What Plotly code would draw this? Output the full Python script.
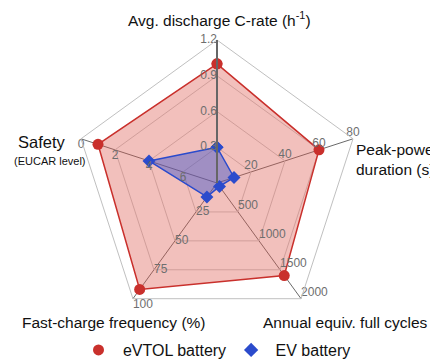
import plotly.graph_objects as go

# ---- data ----
categories = ["Avg. discharge C-rate", "Peak-power duration", "Annual equiv. full cycles",
              "Fast-charge frequency", "Safety"]
axis_max = [1.2, 80, 2000, 100, 8]
axis_reversed = [False, False, False, False, True]
evtol_values = [1.0, 60, 1600, 92, 1]
ev_values = [0.3, 10, 60, 12, 4]
tick_values = [[0.3, 0.6, 0.9, 1.2], [20, 40, 60, 80], [500, 1000, 1500, 2000],
               [25, 50, 75, 100], [0, 2, 4, 6]]
tick_labels = [["0.3", "0.6", "0.9", "1.2"], ["20", "40", "60", "80"],
               ["500", "1000", "1500", "2000"], ["25", "50", "75", "100"],
               ["0", "2", "4", "6"]]
tick_positions = [["middle left"] * 4, ["top center"] * 4, ["top right"] * 4,
                  ["middle right", "middle right", "middle right", "bottom right"],
                  ["bottom center"] * 4]


def norm(v, i):
    r = v / axis_max[i]
    return 1 - r if axis_reversed[i] else r


RED = "#c9302c"
BLUE = "#2b4bcc"
FONT = "Liberation Sans"

fig = go.Figure()

theta_closed = categories + [categories[0]]
evtol_r = [norm(v, i) for i, v in enumerate(evtol_values)]
ev_r = [norm(v, i) for i, v in enumerate(ev_values)]

fig.add_trace(go.Scatterpolar(
    r=evtol_r + [evtol_r[0]], theta=theta_closed, mode="lines+markers",
    fill="toself", fillcolor="rgba(222,90,80,0.38)",
    line=dict(color=RED, width=1.5), marker=dict(color=RED, size=11, symbol="circle"),
    showlegend=False, hoverinfo="skip"))
fig.add_trace(go.Scatterpolar(
    r=ev_r + [ev_r[0]], theta=theta_closed, mode="lines+markers",
    fill="toself", fillcolor="rgba(60,85,205,0.45)",
    line=dict(color=BLUE, width=1.5), marker=dict(color=BLUE, size=10, symbol="diamond"),
    showlegend=False, hoverinfo="skip"))

# per-axis tick labels
for i, cat in enumerate(categories):
    for v, lab, pos in zip(tick_values[i], tick_labels[i], tick_positions[i]):
        fig.add_trace(go.Scatterpolar(
            r=[norm(v, i)], theta=[cat], mode="text", text=[lab], textposition=pos,
            textfont=dict(family=FONT, size=12, color="#6e6e6e"),
            showlegend=False, hoverinfo="skip"))

# legend entries
fig.add_trace(go.Scatterpolar(r=[None], theta=[categories[0]], mode="markers",
                              marker=dict(color=RED, size=11, symbol="circle"),
                              name=" eVTOL battery"))
fig.add_trace(go.Scatterpolar(r=[None], theta=[categories[0]], mode="markers",
                              marker=dict(color=BLUE, size=11, symbol="diamond"),
                              name=" EV battery"))

W, H = 438, 362
OFF = 8  # page body margin: window px = figure px + OFF
cx, cy, R = 217 - OFF, 183 - OFF, 143


def px(x):
    return (x - OFF) / W


def py(y):
    return 1 - (y - OFF) / H


def ann(text, x, y, size, xanchor="center", align="center"):
    return dict(text=text, x=px(x), y=py(y), xref="paper", yref="paper", showarrow=False,
                xanchor=xanchor, yanchor="middle", align=align,
                font=dict(size=size, family=FONT, color="#111"))


fig.update_layout(
    width=W, height=H, margin=dict(l=0, r=0, t=0, b=0),
    paper_bgcolor="white", plot_bgcolor="white",
    font=dict(family=FONT, color="#111"),
    polar=dict(
        domain=dict(x=[(cx - R) / W, (cx + R) / W], y=[(H - cy - R) / H, (H - cy + R) / H]),
        bgcolor="rgba(0,0,0,0)",
        gridshape="linear",
        radialaxis=dict(range=[0, 1], tickvals=[0.25, 0.5, 0.75, 1.0], showticklabels=False,
                        ticks="", gridcolor="#c9c9c9", gridwidth=1, showline=True,
                        linecolor="#666", linewidth=2, angle=90),
        angularaxis=dict(rotation=90, direction="clockwise", showticklabels=False, ticks="",
                         gridcolor="#6a6a6a", gridwidth=1, linecolor="#c0c0c0", linewidth=1),
    ),
    legend=dict(orientation="h", x=px(217), xanchor="center", y=py(350), yanchor="middle",
                font=dict(family=FONT, size=16, color="#111"),
                bgcolor="rgba(0,0,0,0)"),
    annotations=[
        ann("Avg. discharge C-rate (h<sup>-1</sup>)", 219, 19, 15.5),
        ann("Peak-power<br>duration (s)", 354, 159, 15.5, xanchor="left", align="left"),
        ann("Annual equiv. full cycles", 345, 322, 15.5),
        ann("Fast-charge frequency (%)", 114, 322, 15.5),
        ann("Safety", 42, 142, 16.5),
        ann("(EUCAR level)", 50, 161, 11),
    ],
)

fig.write_html("out.html")
